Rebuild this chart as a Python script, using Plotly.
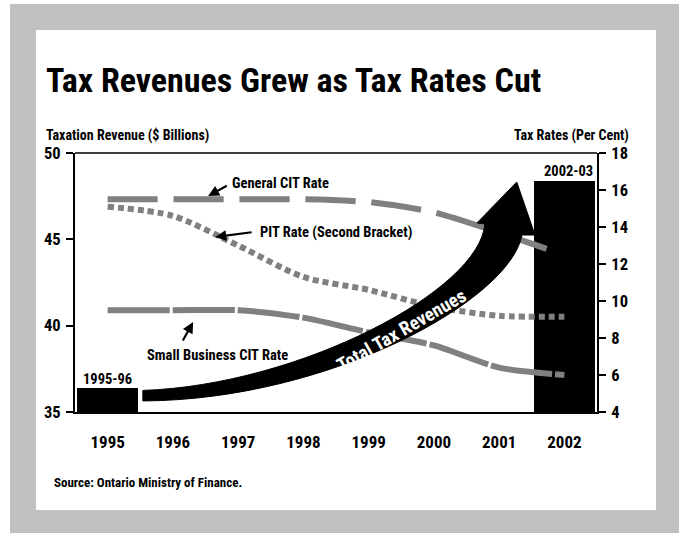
import plotly.graph_objects as go

# ---------------- data ----------------
years = [1995, 1996, 1997, 1998, 1999, 2000, 2001, 2002]
year_labels = ["1995", "1996", "1997", "1998", "1999", "2000", "2001", "2002"]

revenue_years = [1995, 2002]
revenue_labels = ["1995-96", "2002-03"]
revenue_values = [36.4, 48.4]          # $ billions

general_cit_x = [1995, 1996, 1997, 1998, 1999, 2000, 2001, 2001.78]
general_cit = [15.5, 15.5, 15.5, 15.5, 15.35, 14.8, 13.7, 12.75]

pit_x = years
pit_rate = [15.1, 14.6, 13.0, 11.3, 10.6, 9.7, 9.2, 9.15]

small_bus_x = years
small_bus = [9.5, 9.5, 9.5, 9.1, 8.3, 7.6, 6.4, 6.0]

# ---------------- layout geometry ----------------
W, H = 679, 533
L, R, T, B = 75, 597, 153, 412          # plot area in pixels
FONT = "Roboto Condensed, DejaVu Sans Condensed, sans-serif"
GRAY = "#808080"


def px(x):
    return (x - L) / (R - L)


def py(y):
    return (B - y) / (B - T)


fig = go.Figure()

# revenue bars
fig.add_trace(go.Bar(x=revenue_years, y=revenue_values, width=0.93,
                     marker=dict(color="black", line=dict(width=0)),
                     showlegend=False, hoverinfo="skip"))

# rate lines
fig.add_trace(go.Scatter(x=general_cit_x, y=general_cit, yaxis="y2", mode="lines",
                         line=dict(color=GRAY, width=6, dash="50px,16px",
                                   shape="spline", smoothing=0.6),
                         showlegend=False))
fig.add_trace(go.Scatter(x=pit_x, y=pit_rate, yaxis="y2", mode="lines",
                         line=dict(color=GRAY, width=6, dash="6px,4px",
                                   shape="spline", smoothing=0.8),
                         showlegend=False))
fig.add_trace(go.Scatter(x=small_bus_x, y=small_bus, yaxis="y2", mode="lines",
                         line=dict(color=GRAY, width=6, dash="62px,3px",
                                   shape="spline", smoothing=0.7),
                         showlegend=False))

shapes = [
    dict(type="rect", xref="paper", yref="paper", layer="below",
         x0=px(10), x1=px(W + 5), y0=py(4), y1=py(H + 5),
         fillcolor="#c0c0c0", line=dict(width=0)),
    dict(type="rect", xref="paper", yref="paper", layer="below",
         x0=px(36), x1=px(656), y0=py(30), y1=py(510),
         fillcolor="white", line=dict(width=0)),
]

# big "Total Tax Revenues" arrow (decoration, in year / $B units)
x0, x1 = revenue_years
y0, y1 = revenue_values
arrow_path = (
    f"M {x0+0.54},{y0-0.15} "
    f"C {x0+2.95},{y0+0.16} {x0+5.71},{y0+5.67} {x0+5.78},{y0+9.49} "
    f"L {x0+5.66},{y0+9.55} L {x0+6.27},{y1-0.08} L {x0+6.55},{y0+8.85} "
    f"L {x0+6.35},{y0+8.85} "
    f"C {x0+6.17},{y0+5.09} {x0+3.41},{y0-0.70} {x0+0.54},{y0-0.76} Z"
)
shapes.append(dict(type="path", xref="x", yref="y", path=arrow_path,
                   fillcolor="black", line=dict(color="black", width=1),
                   layer="above"))

# top frame line
shapes.append(dict(type="line", xref="paper", yref="paper", x0=0, x1=1, y0=1, y1=1,
                   line=dict(color="black", width=1.5)))

annotations = []


def label(text, x, y, size=14, xanchor="left", **kw):
    annotations.append(dict(text=f"<b>{text}</b>", x=x, y=y, xanchor=xanchor,
                            yanchor="middle", showarrow=False,
                            font=dict(family=FONT, size=size, color="black"), **kw))


# title and axis titles (paper coords)
label("Tax Revenues Grew as Tax Rates Cut", px(44), py(80), size=34,
      xref="paper", yref="paper")
label("Taxation Revenue ($ Billions)", px(44), py(136), size=14,
      xref="paper", yref="paper")
label("Tax Rates (Per Cent)", px(631), py(136), size=14, xanchor="right",
      xref="paper", yref="paper")
label("Source: Ontario Ministry of Finance.", px(52), py(482), size=13,
      xref="paper", yref="paper")

# bar labels
for yr, lab, val in zip(revenue_years, revenue_labels, revenue_values):
    label(lab, yr + (0.0 if yr == 1995 else 0.06), val + 0.5, size=14.5,
          xanchor="center", xref="x", yref="y")

# series labels
label("General CIT Rate", 1996.88, 48.26, size=14.5, xref="x", yref="y")
label("PIT Rate (Second Bracket)", 1997.30, 45.37, size=14.5, xref="x", yref="y")
label("Small Business CIT Rate", 1995.57, 38.30, size=14.5, xref="x", yref="y")

# small pointer arrows
for (hx, hy, tx, ty) in [(1996.54, 47.51, 1996.85, 48.15),
                         (1996.65, 45.13, 1997.23, 45.42),
                         (1996.31, 40.21, 1996.14, 39.05)]:
    annotations.append(dict(text="", x=hx, y=hy, ax=tx, ay=ty, xref="x", yref="y",
                            axref="x", ayref="y", showarrow=True, arrowhead=2,
                            arrowsize=1, arrowwidth=2.2, arrowcolor="black"))

# text on the big arrow
annotations.append(dict(text="<b>Total Tax Revenues</b>", x=1999.5, y=39.7,
                        xref="x", yref="y", showarrow=False, textangle=-30,
                        font=dict(family=FONT, size=19, color="white")))

fig.update_layout(
    width=W, height=H,
    margin=dict(l=L, r=W - R, t=T, b=H - B, pad=0),
    paper_bgcolor="white", plot_bgcolor="white",
    font=dict(family=FONT, color="black"),
    bargap=0,
    shapes=shapes, annotations=annotations,
    xaxis=dict(range=[1994.5, 2002.5], tickvals=years,
               ticktext=[f"<b>{t}</b>" for t in year_labels],
               ticks="", showgrid=False, zeroline=False,
               showline=True, linecolor="black", linewidth=1.5, mirror=False,
               tickfont=dict(family=FONT, size=17), ticklabelstandoff=14),
    yaxis=dict(range=[35, 50], tickvals=[35, 40, 45, 50],
               ticktext=["<b>35</b>", "<b>40</b>", "<b>45</b>", "<b>50</b>"],
               ticks="outside", ticklen=7, tickwidth=1.5, tickcolor="black",
               showgrid=False, zeroline=False, showline=True, linecolor="black",
               linewidth=2, tickfont=dict(family=FONT, size=16.5), ticklabelstandoff=2),
    yaxis2=dict(range=[4, 18], tickvals=[4, 6, 8, 10, 12, 14, 16, 18],
                ticktext=[f"<b>{v}</b>" for v in [4, 6, 8, 10, 12, 14, 16, 18]],
                overlaying="y", side="right",
                ticks="outside", ticklen=7, tickwidth=1.5, tickcolor="black",
                showgrid=False, zeroline=False, showline=True, linecolor="black",
                linewidth=2, tickfont=dict(family=FONT, size=16.5), ticklabelstandoff=2),
)

fig.write_html("out.html", config={"displayModeBar": False},
               post_script="document.body.style.margin='0';")
